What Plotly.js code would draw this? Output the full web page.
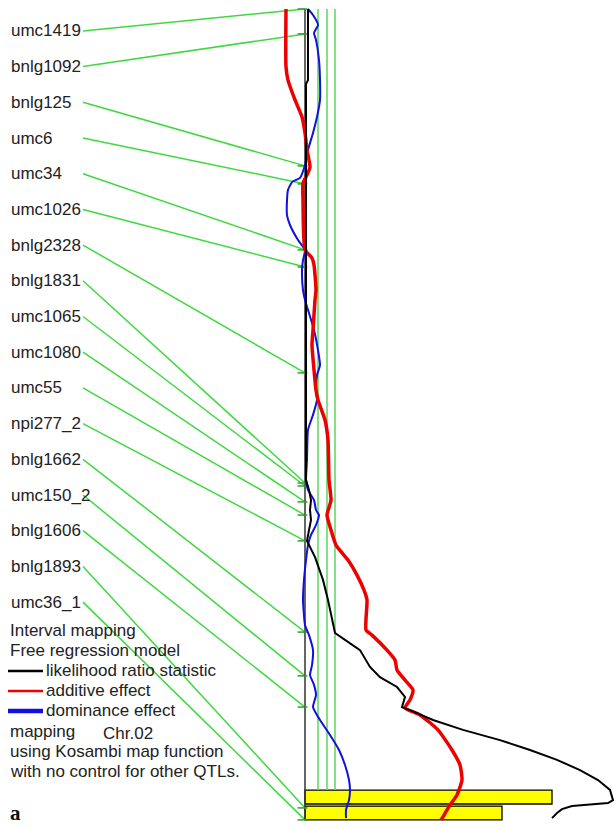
<!DOCTYPE html>
<html>
<head>
<meta charset="utf-8">
<script src="https://cdn.plot.ly/plotly-3.0.1.min.js"></script>
<style>html,body{margin:0;padding:0;background:#fff;}#chart{width:614px;height:828px;}</style>
</head>
<body>
<div id="chart"></div>
<script>
// ---- data (position in cM along the chromosome, effect values in plot units) ----
const markerNames = ["umc1419","bnlg1092","bnlg125","umc6","umc34","umc1026","bnlg2328","bnlg1831",
  "umc1065","umc1080","umc55","npi277_2","bnlg1662","umc150_2","bnlg1606","bnlg1893","umc36_1"];
const markerPos = [0, 8.3, 52.3, 58.3, 80.3, 86, 121.3, 158, 159, 164.3, 168.7, 177.3, 207.7, 222.3, 232.7, 266.3, 270.3];

const lrPos = [0, 23.7, 25, 30.3, 63.7, 97, 130.3, 157, 160.3, 163.7, 167, 170.3, 173.7, 177.3, 182.7, 190.3, 197,
  208, 210.3, 213.7, 219.3, 222.7, 226, 229.3, 232.7, 233.7, 237, 240.3, 243.7, 247, 250.3, 253.7, 257, 260.3,
  263.7, 264.7, 265.7, 266.7, 268, 269.7];
const lrVal = [0.6, 0.6, 0.2, 0.2, 0.2, 0.2, 0.2, 0.2, 0.8, 1.2, 1.0, 1.2, 0.8, 0.4, 2.0, 3.6, 4.6,
  6.0, 8.0, 11.0, 13.0, 15.0, 18.4, 20.0, 19.4, 21.0, 25.6, 31.6, 39.0, 45.0, 50.4, 55.0, 58.6, 61.0,
  61.6, 60.6, 53.4, 51.4, 50.4, 49.4];

const addPos = [0, 19.3, 23.7, 30.3, 36, 41.3, 47, 52.7, 55.3, 58, 63.7, 80.3, 83, 85.3, 93.7, 97, 107, 112,
  120.3, 127, 130.3, 137, 143.7, 157, 163.7, 168.7, 173.7, 178.7, 183.7, 188.7, 193.7, 197, 207, 208.7,
  213.7, 217, 220.3, 223.7, 227, 230.3, 233, 235.3, 240.3, 247, 252, 257, 262, 265.3, 268.7, 270.3];
const addVal = [-3.8, -3.8, -3.4, -2.0, -0.6, 0, 0.4, 1.0, 0.4, -0.4, -0.4, 0, 1.4, 1.8, 2.2, 2.0, 1.6, 1.4,
  1.8, 2.2, 2.6, 4.0, 4.6, 4.8, 5.2, 4.4, 5.2, 6.2, 8.6, 10.4, 11.8, 12.4, 12.2, 13.4,
  16.4, 18.0, 18.4, 20.0, 21.6, 21.0, 20.0, 23.0, 26.6, 29.4, 31.0, 31.4, 30.4, 29.0, 27.8, 27.2];

const domPos = [0, 2, 5.3, 8, 10.3, 17, 23.7, 30.3, 36, 41.3, 47, 52, 56.3, 57.7, 60.3, 63.7, 68.7, 72, 77,
  80.3, 83.7, 87, 93.7, 97, 100.3, 107, 113.7, 118.7, 122, 127, 130.3, 135.3, 140.3, 150.3, 157, 160.3,
  163.7, 167, 168.7, 172, 175.3, 178.7, 183.7, 190.3, 197, 205.3, 208.7, 213.7, 218.7, 222, 225.3, 228.7,
  232.7, 237, 242, 247, 252, 257, 260.3, 263.7, 267, 269.7];
const domVal = [0.6, 1.6, 2.6, 1.8, 2.2, 2.8, 3.0, 3.0, 2.4, 1.6, 0.6, 0, -1.0, -2.6, -3.4, -3.6, -3.6, -3.0, -1.4,
  0, -0.4, -0.6, -0.4, 0, 0.6, 1.8, 2.6, 3.0, 2.4, 2.2, 2.4, 1.6, 0.6, 0.4, 0.2, 0.6,
  1.8, 2.2, 2.8, 2.2, 1.2, 0.6, 0.2, -0.2, -0.4, 0, 0.8, 1.6, 1.4, 1.0, 1.8, 2.2,
  1.6, 3.0, 5.0, 6.8, 8.0, 8.8, 9.0, 8.8, 8.2, 8.2];

const thresholds = [2.6, 4.4, 6.0];
const intervalCenters = [262.7, 268];
const intervalLengths = [49.4, 39.4];

const legendLines = ["Interval mapping", "Free regression model"];
const legendItems = ["likelihood ratio statistic", "additive effect", "dominance effect"];
const footerLines = ["mapping", "using Kosambi map function", "with no control for other QTLs."];
const chrLabel = "Chr.02";
const panelLetter = "a";

// ---- layout helpers ----
const W = 614, H = 828;
const px = x => x / W;
const py = y => 1 - y / H;
const LABEL_END = -44.4;       // x of connector start (just after label text)
const LABEL_TOP = 7.3, LABEL_STEP = 11.9;
const AXIS_END = 270.3, THRESH_END = 260.3;

const traces = [];
// threshold lines
thresholds.forEach(t => traces.push({x: [t, t], y: [0, THRESH_END], mode: 'lines',
  line: {color: '#5cd65c', width: 1.5}, hoverinfo: 'skip'}));
// connectors
markerNames.forEach((n, i) => traces.push({x: [LABEL_END, 0], y: [LABEL_TOP + i * LABEL_STEP, markerPos[i]],
  mode: 'lines', line: {color: '#3fd93f', width: 1.5}, hoverinfo: 'skip'}));
// intervals (bars)
traces.push({type: 'bar', orientation: 'h', y: intervalCenters, x: intervalLengths, width: 4.6,
  marker: {color: '#ffff00', line: {color: '#000', width: 1.3}}, hoverinfo: 'skip'});
// axis line
traces.push({x: [0, 0], y: [0, AXIS_END], mode: 'lines', line: {color: '#333', width: 1.5}, hoverinfo: 'skip'});
// tick marks
traces.push({x: markerPos.map(() => -0.5), y: markerPos, mode: 'markers',
  marker: {symbol: 'line-ew-open', size: 7, line: {color: '#000', width: 1.5}}, hoverinfo: 'skip'});
// curves
traces.push({x: domVal, y: domPos, mode: 'lines', line: {color: '#1010e0', width: 2, shape: 'spline', smoothing: 0.5}});
traces.push({x: addVal, y: addPos, mode: 'lines', line: {color: '#ee0000', width: 3.5, shape: 'spline', smoothing: 0.5}});
traces.push({x: lrVal, y: lrPos, mode: 'lines', line: {color: '#000', width: 2}});

const font = {family: 'Liberation Sans, Arial, sans-serif', size: 17, color: '#222'};
const annotations = [];
markerNames.forEach((n, i) => annotations.push({text: n, xref: 'paper', yref: 'y', x: px(9),
  y: LABEL_TOP + i * LABEL_STEP, xanchor: 'left', yanchor: 'middle', showarrow: false, font: font}));
legendLines.forEach((t, i) => annotations.push({text: t, xref: 'paper', yref: 'paper', x: px(8),
  y: py(630 + i * 20), xanchor: 'left', yanchor: 'middle', showarrow: false, font: font}));
legendItems.forEach((t, i) => annotations.push({text: t, xref: 'paper', yref: 'paper', x: px(44),
  y: py(670 + i * 20), xanchor: 'left', yanchor: 'middle', showarrow: false, font: font}));
footerLines.forEach((t, i) => annotations.push({text: t, xref: 'paper', yref: 'paper', x: px(8),
  y: py(731 + i * 20), xanchor: 'left', yanchor: 'middle', showarrow: false, font: font}));
annotations.push({text: chrLabel, xref: 'paper', yref: 'paper', x: px(101), y: py(733), xanchor: 'left',
  yanchor: 'middle', showarrow: false, font: font});
annotations.push({text: '<b>' + panelLetter + '</b>', xref: 'paper', yref: 'paper', x: px(8), y: py(813),
  xanchor: 'left', yanchor: 'middle', showarrow: false,
  font: {family: 'Liberation Serif, Times New Roman, serif', size: 21, color: '#111'}});

const legendColors = ['#000', '#ee0000', '#1010e0'];
const legendWidths = [2.5, 2.5, 4.5];
const shapes = legendColors.map((c, i) => ({type: 'line', xref: 'paper', yref: 'paper',
  x0: px(8), x1: px(43), y0: py(671 + i * 20), y1: py(671 + i * 20), line: {color: c, width: legendWidths[i]}}));

const layout = {
  width: W, height: H, margin: {l: 0, r: 0, t: 0, b: 0}, showlegend: false,
  paper_bgcolor: '#fff', plot_bgcolor: '#fff',
  xaxis: {range: [-61, 61.8], visible: false, fixedrange: true},
  yaxis: {range: [273, -3], visible: false, fixedrange: true},
  annotations: annotations, shapes: shapes
};
Plotly.newPlot('chart', traces, layout, {displayModeBar: false, staticPlot: true});
</script>
</body>
</html>
